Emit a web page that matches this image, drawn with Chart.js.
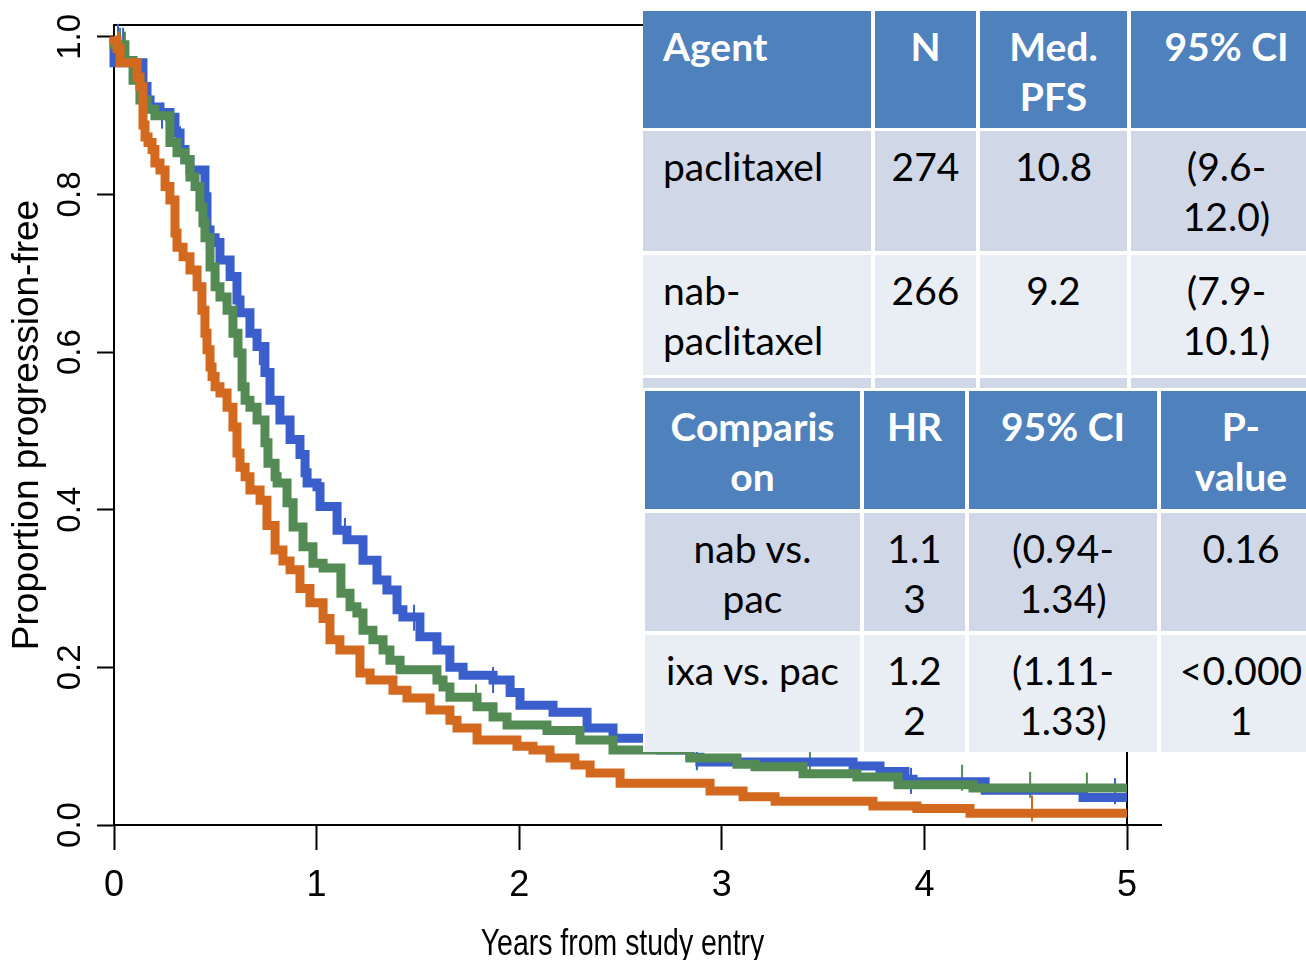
<!DOCTYPE html>
<html>
<head>
<meta charset="utf-8">
<script src="https://cdn.jsdelivr.net/npm/chart.js@4.4.0/dist/chart.umd.min.js"></script>
<style>
  html, body { margin: 0; padding: 0; background: #fff; }
  #wrap { position: relative; width: 1306px; height: 960px; overflow: hidden; background: #fff; }
  #c { position: absolute; left: 0; top: 0; }
  .panel { position: absolute; background: #fff; }
  .cell { position: absolute; box-sizing: border-box; font-family: Lato, "Open Sans", sans-serif;
          font-size: 39px; line-height: 50px; white-space: pre; color: #000; overflow: hidden; }
  .hdr { background: #4F81BD; color: #fff; font-weight: bold; }
  .dark { background: #D0D8E8; }
  .light { background: #E9EDF4; }
</style>
</head>
<body>
<div id="wrap">
  <canvas id="c" width="1306" height="960"></canvas>
  <div id="tables"></div>
</div>
<script>
// ---------------- DATA ----------------
const xTicks = [0, 1, 2, 3, 4, 5];
const yTicks = [0, 0.2, 0.4, 0.6, 0.8, 1.0];
const yTickLabels = ['0.0', '0.2', '0.4', '0.6', '0.8', '1.0'];
const xTitle = 'Years from study entry';
const yTitle = 'Proportion progression-free';

// Kaplan-Meier steps [years, proportion]
const paclitaxelSteps = [[0,1.0],[0.143,0.967],[0.163,0.937],[0.178,0.920],[0.227,0.911],[0.276,0.904],[0.301,0.898],[0.326,0.878],[0.350,0.857],[0.375,0.844],[0.449,0.831],[0.459,0.797],[0.474,0.755],[0.499,0.745],[0.523,0.739],[0.573,0.717],[0.607,0.696],[0.622,0.666],[0.671,0.650],[0.706,0.624],[0.745,0.607],[0.770,0.574],[0.819,0.539],[0.869,0.514],[0.918,0.489],[0.943,0.470],[0.953,0.447],[1.002,0.434],[1.017,0.429],[1.101,0.404],[1.150,0.374],[1.229,0.362],[1.298,0.336],[1.347,0.311],[1.397,0.298],[1.426,0.273],[1.510,0.264],[1.594,0.239],[1.658,0.222],[1.723,0.200],[1.871,0.190],[1.955,0.184],[2.004,0.168],[2.167,0.152],[2.335,0.143],[2.463,0.123],[2.695,0.110],[2.843,0.095],[2.892,0.086],[3.648,0.080],[3.781,0.075],[3.904,0.068],[3.944,0.058],[4.300,0.055],[4.783,0.044],[4.990,0.035],[5.0,0.035]];
const nabPaclitaxelSteps = [[0,1.0],[0.054,0.990],[0.094,0.970],[0.128,0.945],[0.163,0.920],[0.202,0.908],[0.276,0.900],[0.311,0.866],[0.350,0.853],[0.375,0.844],[0.400,0.822],[0.424,0.810],[0.439,0.784],[0.449,0.764],[0.474,0.745],[0.499,0.708],[0.523,0.683],[0.558,0.670],[0.587,0.653],[0.612,0.624],[0.632,0.599],[0.647,0.556],[0.671,0.539],[0.706,0.530],[0.745,0.514],[0.760,0.485],[0.795,0.459],[0.805,0.442],[0.854,0.434],[0.884,0.409],[0.933,0.378],[0.982,0.353],[1.032,0.332],[1.120,0.326],[1.165,0.294],[1.199,0.277],[1.229,0.269],[1.278,0.247],[1.328,0.235],[1.362,0.222],[1.412,0.209],[1.594,0.197],[1.624,0.184],[1.658,0.175],[1.792,0.162],[1.871,0.150],[1.940,0.137],[2.137,0.127],[2.300,0.120],[2.463,0.108],[2.843,0.095],[3.075,0.085],[3.164,0.077],[3.401,0.074],[3.667,0.065],[3.870,0.061],[4.240,0.051],[4.990,0.047],[5.0,0.047]];
const ixabepiloneSteps = [[0,1.0],[0.015,0.996],[0.030,0.985],[0.114,0.967],[0.128,0.949],[0.143,0.937],[0.153,0.888],[0.168,0.873],[0.188,0.866],[0.202,0.857],[0.227,0.840],[0.252,0.831],[0.276,0.810],[0.301,0.793],[0.311,0.751],[0.341,0.733],[0.375,0.721],[0.410,0.704],[0.434,0.683],[0.449,0.653],[0.459,0.624],[0.474,0.603],[0.484,0.581],[0.499,0.569],[0.523,0.556],[0.558,0.548],[0.587,0.530],[0.607,0.505],[0.622,0.472],[0.647,0.454],[0.671,0.442],[0.721,0.425],[0.755,0.412],[0.795,0.380],[0.834,0.349],[0.869,0.335],[0.918,0.324],[0.967,0.300],[1.032,0.282],[1.066,0.262],[1.115,0.235],[1.214,0.222],[1.264,0.193],[1.377,0.184],[1.446,0.171],[1.560,0.161],[1.658,0.146],[1.693,0.133],[1.792,0.123],[1.989,0.108],[2.068,0.100],[2.152,0.095],[2.275,0.085],[2.350,0.076],[2.498,0.066],[2.942,0.053],[3.105,0.043],[3.263,0.036],[3.746,0.030],[3.963,0.024],[4.225,0.021],[4.931,0.015],[5.0,0.015]];

// censoring marks [years, proportion]
const paclitaxelCensored = [[0.020,1.0],[0.045,0.995],[0.237,0.900],[0.326,0.870],[0.720,0.600],[1.140,0.373],[1.481,0.263],[1.871,0.184],[2.877,0.086],[3.934,0.056],[4.941,0.043]];
const nabPaclitaxelCensored = [[0.030,0.995],[0.054,0.990],[0.267,0.890],[0.360,0.835],[1.787,0.162],[3.435,0.076],[4.186,0.060],[4.522,0.051],[4.802,0.050]];
const ixabepiloneCensored = [[0.020,0.990],[4.531,0.021]];

// table content
const agentHeader = ['Agent', 'N', 'Med.\nPFS', '95% CI'];
const agentRows = [
  ['paclitaxel', '274', '10.8', '(9.6-\n12.0)'],
  ['nab-\npaclitaxel', '266', '9.2', '(7.9-\n10.1)'],
  ['', '', '', '']
];
const comparisonHeader = ['Comparis\non', 'HR', '95% CI', 'P-\nvalue'];
const comparisonRows = [
  ['nab vs.\npac', '1.1\n3', '(0.94-\n1.34)', '0.16'],
  ['ixa vs. pac', '1.2\n2', '(1.11-\n1.33)', '<0.000\n1']
];

// ---------------- STYLE / LAYOUT ----------------
const colors = { pac: '#3A5FCD', nab: '#548B54', ixa: '#D2691E' };

function toXY(arr) { return arr.map(p => ({ x: p[0], y: p[1] })); }

function curve(data, color) {
  return { type: 'line', data: toXY(data), borderColor: color, borderWidth: 9, stepped: 'after',
           pointRadius: 0, fill: false, clip: false, tension: 0 };
}
function marks(data, color) {
  return { type: 'scatter', data: toXY(data), showLine: false, pointStyle: 'line', rotation: 90,
           pointRadius: 13, pointBorderWidth: 2, borderColor: color, backgroundColor: color,
           pointBorderColor: color, clip: false };
}

const framePlugin = {
  id: 'frame',
  beforeDatasetsDraw(chart) {
    const { ctx, chartArea: a } = chart;
    ctx.save();
    ctx.strokeStyle = '#000';
    ctx.lineWidth = 2;
    ctx.beginPath();
    ctx.moveTo(a.left, a.top); ctx.lineTo(a.right, a.top);
    ctx.moveTo(a.right, a.top); ctx.lineTo(a.right, a.bottom);
    ctx.moveTo(a.right, a.bottom); ctx.lineTo(a.right + 35, a.bottom);
    ctx.stroke();
    ctx.restore();
  },
  afterDraw(chart) {
    // condensed x-axis title, centred under the x scale
    const { ctx, chartArea: a } = chart;
    ctx.save();
    ctx.fillStyle = '#000';
    ctx.font = '36px "Liberation Sans", Arial, sans-serif';
    ctx.textAlign = 'center';
    ctx.textBaseline = 'alphabetic';
    ctx.translate((a.left + a.right) / 2 + 2, 955);
    ctx.scale(0.79, 1);
    ctx.fillText(xTitle, 0, 0);
    ctx.restore();
  }
};

Chart.defaults.color = '#000';

new Chart(document.getElementById('c'), {
  data: {
    datasets: [
      curve(ixabepiloneSteps, colors.ixa),
      curve(nabPaclitaxelSteps, colors.nab),
      curve(paclitaxelSteps, colors.pac),
      marks(ixabepiloneCensored, colors.ixa),
      marks(nabPaclitaxelCensored, colors.nab),
      marks(paclitaxelCensored, colors.pac)
    ]
  },
  options: {
    responsive: false,
    devicePixelRatio: 1,
    animation: false,
    layout: { padding: { left: 0, top: 25, right: 179, bottom: 0 } },
    plugins: { legend: { display: false }, tooltip: { enabled: false } },
    scales: {
      x: {
        type: 'linear', min: 0, max: 5,
        afterBuildTicks: s => { s.ticks = xTicks.map(v => ({ value: v })); },
        afterFit: s => { s.height = 135; },
        grid: { display: true, drawOnChartArea: false, drawTicks: true, tickLength: 25, tickWidth: 2, tickColor: '#000' },
        border: { display: true, color: '#000', width: 2 },
        ticks: { color: '#000', padding: 14, maxRotation: 0, autoSkip: false,
                 font: { family: '"Liberation Sans", Arial', size: 36 },
                 callback: v => String(v) },
        title: { display: false, text: xTitle }
      },
      y: {
        type: 'linear', min: 0, max: 1.015,
        afterBuildTicks: s => { s.ticks = yTicks.map(v => ({ value: v })); },
        afterFit: s => { s.width = 114; },
        grid: { display: true, drawOnChartArea: false, drawTicks: true, tickLength: 17, tickWidth: 2, tickColor: '#000' },
        border: { display: true, color: '#000', width: 2 },
        ticks: { color: '#000', padding: 3, minRotation: 90, maxRotation: 90, crossAlign: 'center', autoSkip: false,
                 font: { family: '"Liberation Sans", Arial', size: 33 },
                 callback: v => yTickLabels[yTicks.indexOf(v)] },
        title: { display: true, text: yTitle, color: '#000', padding: { top: 6, bottom: 0 },
                 font: { family: '"Liberation Sans", Arial', size: 37 } }
      }
    }
  },
  plugins: [framePlugin]
});

// ---------------- TABLES (HTML overlay) ----------------
const table1Layout = { colX: [643, 875, 980, 1131], colW: [228, 101, 147, 191],
                       rowY: [11, 131, 255, 378], rowH: [117, 120, 120, 10], firstLeft: true };
const table2Layout = { colX: [645, 864, 969, 1161], colW: [215, 101, 188, 160],
                       rowY: [391, 513, 635], rowH: [118, 118, 117], firstLeft: false };

function buildTable(header, rows, L) {
  const host = document.getElementById('tables');
  const all = [header].concat(rows);
  all.forEach((row, r) => {
    row.forEach((txt, c) => {
      const d = document.createElement('div');
      d.className = 'cell ' + (r === 0 ? 'hdr' : (r % 2 === 1 ? 'dark' : 'light'));
      d.style.left = L.colX[c] + 'px';
      d.style.top = L.rowY[r] + 'px';
      d.style.width = L.colW[c] + 'px';
      d.style.height = L.rowH[r] + 'px';
      d.style.paddingTop = '10px';
      if (L.firstLeft && c === 0) { d.style.textAlign = 'left'; d.style.paddingLeft = '20px'; }
      else { d.style.textAlign = 'center'; }
      d.textContent = txt;
      host.appendChild(d);
    });
  });
}
(function () {
  const bg = document.createElement('div');
  bg.className = 'panel';
  bg.style.left = '643px'; bg.style.top = '11px'; bg.style.width = '663px'; bg.style.height = '741px';
  document.getElementById('tables').appendChild(bg);
})();
buildTable(agentHeader, agentRows, table1Layout);
buildTable(comparisonHeader, comparisonRows, table2Layout);
</script>
</body>
</html>
